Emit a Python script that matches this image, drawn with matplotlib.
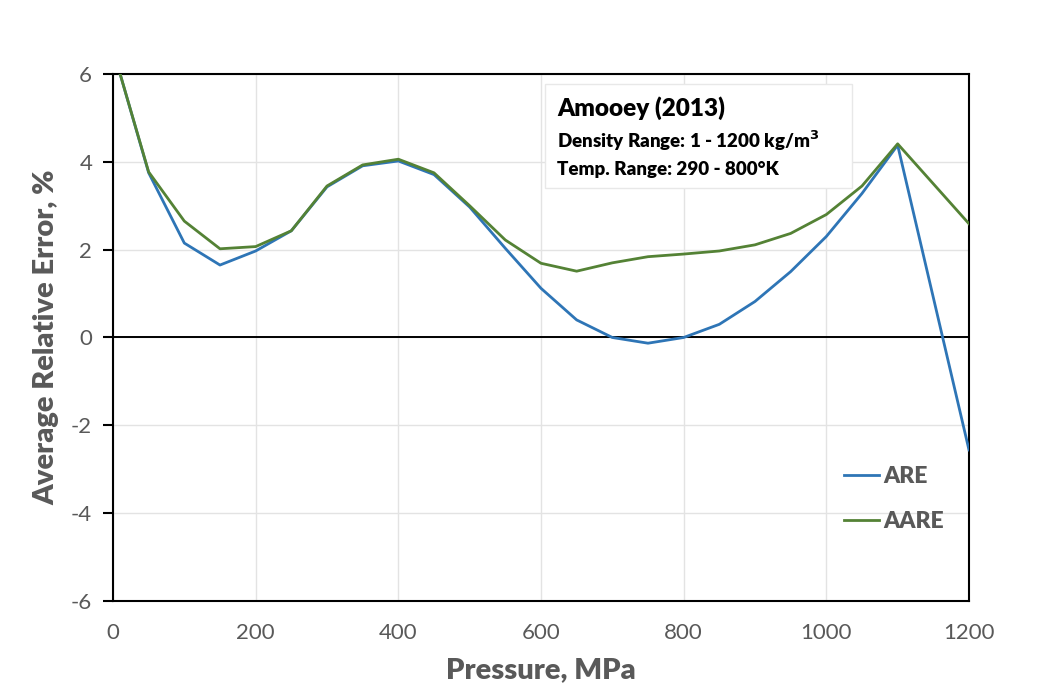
import matplotlib
matplotlib.use("Agg")
import matplotlib.pyplot as plt

# Pressure grid (MPa) and error series (%)
pressure = [10, 50, 100, 150, 200, 250, 300, 350, 400, 450, 500, 550, 600,
            650, 700, 750, 800, 850, 900, 950, 1000, 1050, 1100, 1200]
are = [6.0, 3.75, 2.15, 1.65, 1.97, 2.43, 3.43, 3.91, 4.02, 3.71, 2.97, 2.03,
       1.12, 0.40, 0.0, -0.13, 0.0, 0.30, 0.82, 1.50, 2.30, 3.28, 4.38, -2.56]
aare = [6.0, 3.77, 2.65, 2.02, 2.07, 2.43, 3.45, 3.93, 4.06, 3.75, 3.00, 2.22,
        1.69, 1.51, 1.70, 1.84, 1.90, 1.97, 2.11, 2.37, 2.80, 3.45, 4.41, 2.59]

x_ticks = [0, 200, 400, 600, 800, 1000, 1200]
y_ticks = [-6, -4, -2, 0, 2, 4, 6]

plt.rcParams['font.family'] = ['Lato', 'DejaVu Sans']
plt.rcParams['axes.unicode_minus'] = False
grey = '#595959'

fig = plt.figure(figsize=(10.56, 6.95), dpi=100)
ax = fig.add_axes([0.107, 0.1353, 0.8106, 0.7582])

ax.plot(pressure, are, color='#2E75B6', lw=2.0, label='ARE', zorder=3)
ax.plot(pressure, aare, color='#548235', lw=2.0, label='AARE', zorder=3)
ax.axhline(0, color='black', lw=1.4, zorder=2)

ax.set_xlim(0, 1200)
ax.set_ylim(-6, 6)
ax.set_xticks(x_ticks)
ax.set_yticks(y_ticks)
ax.grid(True, color='#E3E3E3', lw=1.0, zorder=0)
ax.set_axisbelow(True)

for s in ax.spines.values():
    s.set_color('black')
    s.set_linewidth(1.5)

ax.tick_params(axis='x', length=0, pad=16, labelsize=16, labelcolor=grey)
ax.tick_params(axis='y', length=7, width=1.5, direction='out', pad=8,
               labelsize=16, labelcolor=grey)

ax.set_xlabel('Pressure, MPa', fontsize=21, fontweight='heavy', color=grey, labelpad=10)
ax.set_ylabel('Average Relative Error, %', fontsize=21, fontweight='heavy', color=grey, labelpad=8)

# Annotation box with the model reference and validity ranges
fig.patches.append(plt.Rectangle((545 / 1056, 1 - 188 / 695), 307 / 1056, 104 / 695,
                                 transform=fig.transFigure, facecolor='white',
                                 edgecolor='#E8E8E8', lw=1.0, zorder=5))
fig.text(557 / 1056, 1 - 108 / 695, 'Amooey (2013)', fontsize=17.5, fontweight='heavy',
         color='black', va='center', zorder=6)
fig.text(557 / 1056, 1 - 141 / 695, 'Density Range: 1 - 1200 kg/m$^\\mathbf{3}$', fontsize=13.5,
         fontweight='heavy', color='black', va='center', zorder=6)
fig.text(557 / 1056, 1 - 169 / 695, 'Temp. Range: 290 - 800°K', fontsize=13.5,
         fontweight='heavy', color='black', va='center', zorder=6)

leg = ax.legend(loc='lower right', bbox_to_anchor=(0.995, 0.092), frameon=False,
                handlelength=1.5, handletextpad=0.2, labelspacing=1.05,
                prop={'weight': 'heavy', 'size': 16.5})
for t in leg.get_texts():
    t.set_color(grey)

fig.savefig('out.png', dpi=100)
